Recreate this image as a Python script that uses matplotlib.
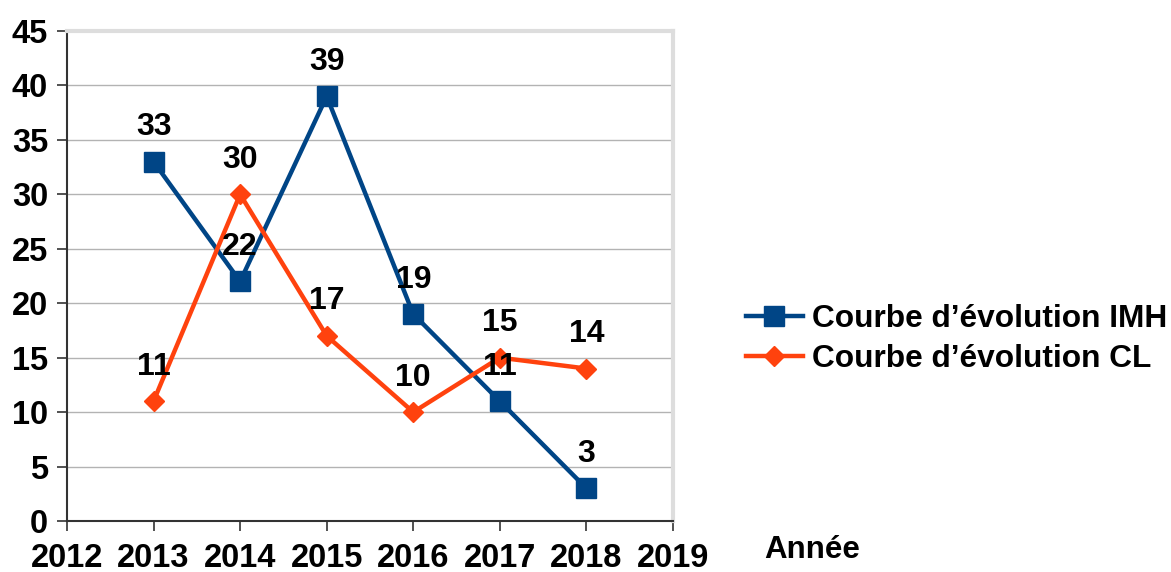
import matplotlib.pyplot as plt

plt.rcParams['font.family'] = ['Liberation Sans', 'DejaVu Sans']
plt.rcParams['font.weight'] = 'bold'

annees = [2013, 2014, 2015, 2016, 2017, 2018]
imh = [33, 22, 39, 19, 11, 3]
cl = [11, 30, 17, 10, 15, 14]
xticks = [2012, 2013, 2014, 2015, 2016, 2017, 2018, 2019]
yticks = [0, 5, 10, 15, 20, 25, 30, 35, 40, 45]

bleu = '#004586'
orange = '#ff420e'

fig = plt.figure(figsize=(11.71, 5.72), dpi=100)
ax = fig.add_axes([0.0572, 0.0892, 0.5175, 0.8566])

ax.set_xlim(2012, 2019)
ax.set_ylim(0, 45)
ax.set_xticks(xticks)
ax.set_yticks(yticks)
ax.tick_params(axis='both', labelsize=23.5, length=7.5, width=1.2, color='#333333', pad=6)
ax.tick_params(axis='x', pad=8)
for lab in ax.get_xticklabels() + ax.get_yticklabels():
    lab.set_fontweight('bold')

ax.grid(axis='y', color='#b3b3b3', lw=1)
ax.set_axisbelow(True)
for s in ['top', 'right']:
    ax.spines[s].set_color('#dddddd')
    ax.spines[s].set_linewidth(3)
for s in ['left', 'bottom']:
    ax.spines[s].set_color('#333333')
    ax.spines[s].set_linewidth(1.5)

ax.plot(annees, imh, color=bleu, lw=3.2, marker='s', ms=14, label='Courbe d\u2019\u00e9volution IMH', zorder=3)
ax.plot(annees, cl, color=orange, lw=3.2, marker='D', ms=10, label='Courbe d\u2019\u00e9volution CL', zorder=3)

for x, y in zip(annees, imh):
    ax.annotate(str(y), (x, y), xytext=(0, 14), textcoords='offset points',
                ha='center', va='bottom', fontsize=23, fontweight='bold', zorder=4)
for x, y in zip(annees, cl):
    ax.annotate(str(y), (x, y), xytext=(0, 14), textcoords='offset points',
                ha='center', va='bottom', fontsize=23, fontweight='bold', zorder=4)

leg = fig.legend(loc='center left', bbox_to_anchor=(0.637, 0.407), frameon=False,
                 prop={'size': 22.8, 'weight': 'bold'}, handlelength=1.8,
                 handletextpad=0.28, labelspacing=0.3, borderaxespad=0, borderpad=0)

fig.text(0.653, 0.038, 'Ann\u00e9e', fontsize=22.5, fontweight='bold', ha='left', va='center')

fig.savefig('out.png', dpi=100)
